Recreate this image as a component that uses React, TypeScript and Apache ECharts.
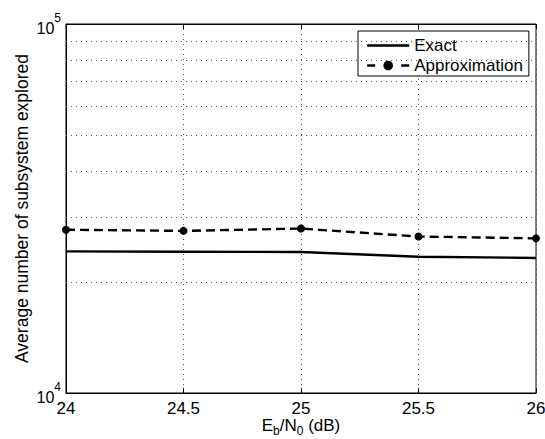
import React, { useEffect, useRef } from "react";
import * as echarts from "echarts";

const ebN0 = [24, 24.5, 25, 25.5, 26];
const exactValues = [24200, 24150, 24100, 23400, 23230];
const approxValues = [27700, 27500, 27900, 26550, 26250];
const minorGridValues = [20000, 30000, 40000, 50000, 60000, 70000, 80000, 90000];
const seriesNames = ["Exact", "Approximation"];
const yAxisTitle = "Average number of subsystem explored";

const FONT = "'Liberation Sans', Arial, Helvetica, sans-serif";

export default function App() {
  const ref = useRef<HTMLDivElement>(null);
  useEffect(() => {
    const chart = echarts.init(ref.current!, null, { renderer: "svg" });
    const dotted = { color: "#555", width: 1, type: [1, 4] as number[] };
    chart.setOption({
      animation: false,
      backgroundColor: "#fff",
      textStyle: { fontFamily: FONT, color: "#000" },
      grid: {
        left: 66,
        right: 9,
        top: 24,
        bottom: 46,
        containLabel: false,
        outerBoundsMode: "none",
        show: true,
        borderColor: "#000",
        borderWidth: 1,
        backgroundColor: "transparent",
      },
      legend: {
        orient: "vertical",
        left: 358,
        top: 31,
        padding: [6, 6, 2, 8],
        itemGap: 3,
        itemWidth: 42,
        itemHeight: 12,
        borderColor: "#000",
        borderWidth: 1,
        borderRadius: 0,
        backgroundColor: "#fff",
        data: [
          {
            name: seriesNames[0],
            itemStyle: { opacity: 0 },
            lineStyle: { width: 2.4, type: "solid", color: "#000" },
          },
          {
            name: seriesNames[1],
            itemStyle: { color: "#000" },
            lineStyle: { width: 2.4, type: [8, 26], color: "#000" },
          },
        ],
        textStyle: { fontSize: 17, color: "#000", fontFamily: FONT },
      },
      xAxis: [
        {
          type: "value",
          min: 24,
          max: 26,
          interval: 0.5,
          name: "{n|E}{s|b}{n|/N}{s|0}{n| (dB)}",
          nameLocation: "middle",
          nameGap: 24,
          nameMoveOverlap: false,
          nameTextStyle: {
            rich: {
              n: { fontSize: 17, lineHeight: 17, fontFamily: FONT, color: "#000", verticalAlign: "top" },
              s: { fontSize: 12, lineHeight: 12, fontFamily: FONT, color: "#000", padding: [10, 0, 0, 0] },
            },
          },
          axisLine: { show: true, lineStyle: { color: "#000", width: 1 } },
          axisTick: { show: true, inside: true, length: 5, lineStyle: { color: "#000" } },
          axisLabel: {
            fontSize: 17,
            lineHeight: 17,
            color: "#000",
            margin: 7,
            fontFamily: FONT,
            formatter: (v: number) => String(v),
          },
          splitLine: { show: true, lineStyle: dotted },
        },
        {
          type: "value",
          position: "top",
          min: 24,
          max: 26,
          interval: 0.5,
          axisLine: { show: true, lineStyle: { color: "#000", width: 1 } },
          axisTick: { show: true, inside: true, length: 5, lineStyle: { color: "#000" } },
          axisLabel: { show: false },
          splitLine: { show: false },
        },
      ],
      yAxis: {
        type: "log",
        logBase: 10,
        min: 10000,
        max: 100000,
        name: yAxisTitle,
        nameLocation: "middle",
        nameGap: 35,
        nameMoveOverlap: false,
        nameTextStyle: { fontSize: 17.5, color: "#000", fontFamily: FONT },
        axisLine: { show: true, lineStyle: { color: "#000", width: 1 } },
        axisTick: { show: false },
        splitLine: { show: false },
        axisLabel: {
          margin: 5,
          verticalAlignMinLabel: "middle",
          verticalAlignMaxLabel: "middle",
          formatter: (v: number) => `{b|10}{s|${Math.round(Math.log10(v))}}`,
          rich: {
            b: { fontSize: 16, fontFamily: FONT, color: "#000", lineHeight: 24, verticalAlign: "bottom" },
            s: { fontSize: 12, fontFamily: FONT, color: "#000", verticalAlign: "top" },
          },
        },
      },
      series: [
        {
          name: seriesNames[0],
          type: "line",
          data: ebN0.map((x, i) => [x, exactValues[i]]),
          symbol: "none",
          lineStyle: { color: "#000", width: 2.4 },
          itemStyle: { color: "#000" },
          markLine: {
            silent: true,
            symbol: "none",
            label: { show: false },
            lineStyle: dotted,
            data: minorGridValues.map((v) => ({ yAxis: v })),
          },
        },
        {
          name: seriesNames[1],
          type: "line",
          data: ebN0.map((x, i) => [x, approxValues[i]]),
          symbol: "circle",
          symbolSize: 8,
          lineStyle: { color: "#000", width: 2.4, type: [9, 5] },
          itemStyle: { color: "#000" },
        },
      ],
    });
    return () => chart.dispose();
  }, []);
  return <div ref={ref} style={{ width: 545, height: 439, position: "absolute", left: 0, top: 0 }} />;
}
